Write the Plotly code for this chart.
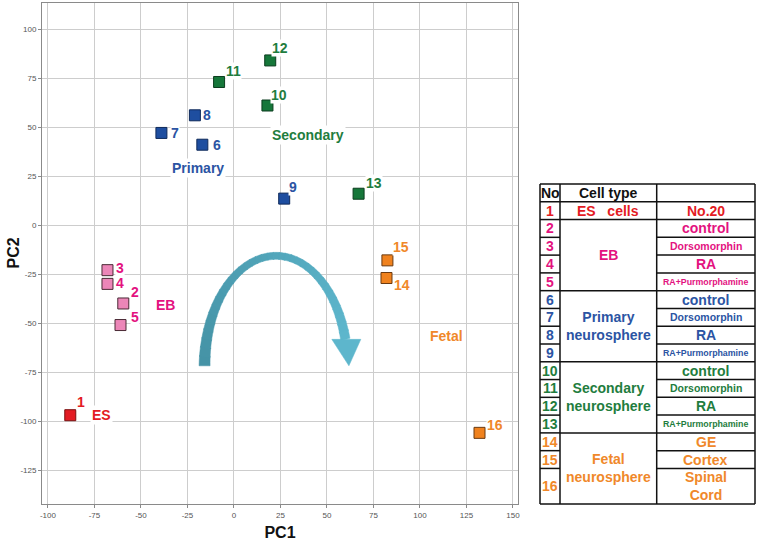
import numpy as np
import plotly.graph_objects as go

# ---------------- data ----------------
samples = [str(i) for i in range(1, 17)]
pc1 = [-88, -59.5, -68, -68, -61, -17, -39, -21, 27, 18, -8, 19.5, 67, 82, 82.5, 132]
pc2 = [-97, -40, -23, -30, -51, 41, 47, 56, 13.5, 61, 73, 84, 16, -27, -18, -106]
group = ["ES", "EB", "EB", "EB", "EB",
         "Primary", "Primary", "Primary", "Primary",
         "Secondary", "Secondary", "Secondary", "Secondary",
         "Fetal", "Fetal", "Fetal"]

group_names = ["ES", "EB", "Primary", "Secondary", "Fetal"]
group_label_x = [-71, -37, -19.6, 40, 114.4]
group_label_y = [-97, -41, 29, 46, -56.6]

x_ticks = [-100, -75, -50, -25, 0, 25, 50, 75, 100, 125, 150]
y_ticks = [-125, -100, -75, -50, -25, 0, 25, 50, 75, 100]

# table content
table_header = ["No", "Cell type", ""]
cell_types = ["ES\u00a0\u00a0 cells", "EB", "Primary<br>neurosphere",
              "Secondary<br>neurosphere", "Fetal<br>neurosphere"]
cell_type_samples = [[1], [2, 3, 4, 5], [6, 7, 8, 9], [10, 11, 12, 13], [14, 15, 16]]
conditions = ["No.20", "control", "Dorsomorphin", "RA", "RA+Purmorphamine",
              "control", "Dorsomorphin", "RA", "RA+Purmorphamine",
              "control", "Dorsomorphin", "RA", "RA+Purmorphamine",
              "GE", "Cortex", "Spinal<br>Cord"]

# ---------------- styles ----------------
fill_col = {"ES": "#E31B23", "EB": "#EC86B8", "Primary": "#1E4EA0",
            "Secondary": "#16773A", "Fetal": "#F0821E"}
edge_col = {"ES": "#7A1010", "EB": "#4A2A35", "Primary": "#0F2A5A",
            "Secondary": "#0B3D1E", "Fetal": "#6B3A10"}
text_col = {"ES": "#E31B23", "EB": "#E3127F", "Primary": "#2B54A3",
            "Secondary": "#1F7D3E", "Fetal": "#F0882A"}
# label offsets in pixels (right, down)
lab_dx = [11, 12, 13, 13, 14, 15, 14, 12, 9, 12, 14, 10, 15, 16, 14, 15]
lab_dy = [-13, -11, -2, -1, -8, 0, 0, 0, -12, -11, -11, -12, -11, 7, -13, -8]
cond_size = {"Dorsomorphin": 10.5, "RA+Purmorphamine": 8.8}

FONT = "Liberation Sans, Arial, Helvetica, sans-serif"

fig = go.Figure()

for g in group_names:
    idx = [i for i, gg in enumerate(group) if gg == g]
    fig.add_trace(go.Scatter(
        x=[pc1[i] for i in idx], y=[pc2[i] for i in idx],
        mode="markers",
        marker=dict(symbol="square", size=11, color=fill_col[g],
                    line=dict(color=edge_col[g], width=1)),
        hoverinfo="skip", showlegend=False))

annotations = []
for i, s in enumerate(samples):
    annotations.append(dict(
        x=pc1[i], y=pc2[i], xref="x", yref="y", text="<b>%s</b>" % s,
        showarrow=False, xshift=lab_dx[i], yshift=-lab_dy[i],
        font=dict(size=14, color=text_col[group[i]], family=FONT),
        bgcolor="white", borderpad=0))
for g, gx, gy in zip(group_names, group_label_x, group_label_y):
    annotations.append(dict(
        x=gx, y=gy, xref="x", yref="y", text="<b>%s</b>" % g,
        showarrow=False, font=dict(size=14, color=text_col[g], family=FONT),
        bgcolor="white", borderpad=1))

# ---------------- curved arrow (decoration) ----------------
shapes = []
SX, SY = 1.86, 1.96  # px per data unit
cx, cy, rx, ry = 22.6, -71.8, 38.4, 56.1
head_base_y, head_l, head_r, tip_x, tip_y = -58.3, 52.6, 68.2, 61.8, -71.8
t_end = np.pi - np.arcsin((head_base_y - cy) / ry)


def half_w(t):
    s = np.sin(t)
    return np.where(t < np.pi / 2, 7 + 4 * (1 - s), 7 + 3.3 * (1 - s)) / 2.0


def hexmix(c1, c2, f):
    a = [int(c1[k:k + 2], 16) for k in (1, 3, 5)]
    b = [int(c2[k:k + 2], 16) for k in (1, 3, 5)]
    return "#%02x%02x%02x" % tuple(int(round(a[k] + (b[k] - a[k]) * f)) for k in range(3))


N = 36
tb = np.linspace(0, t_end, N + 1)
for i in range(N):
    ts = np.linspace(tb[i], tb[i + 1] + (0.01 if i < N - 1 else 0), 4)
    hw = half_w(ts)
    ox = cx - (rx + hw / SX) * np.cos(ts)
    oy = cy + (ry + hw / SY) * np.sin(ts)
    ix = cx - (rx - hw / SX) * np.cos(ts)
    iy = cy + (ry - hw / SY) * np.sin(ts)
    pts = list(zip(ox, oy)) + list(zip(ix[::-1], iy[::-1]))
    path = "M " + " L ".join("%.3f,%.3f" % p for p in pts) + " Z"
    col = hexmix("#4593A6", "#5DB6CC", i / (N - 1))
    shapes.append(dict(type="path", path=path, xref="x", yref="y",
                       fillcolor=col, line=dict(color=col, width=0.5)))
shapes.append(dict(type="path", xref="x", yref="y",
                   path="M %.2f,%.2f L %.2f,%.2f L %.2f,%.2f Z" % (
                       head_l, head_base_y, head_r, head_base_y, tip_x, tip_y),
                   fillcolor="#5DB6CC", line=dict(color="#5DB6CC", width=0.5)))

# ---------------- geometry ----------------
W, H = 759, 541
ML, MR, MT, MB = 42, 2, 3, 37
PW, PH = W - ML - MR, H - MT - MB


def PX(x):       # page px -> paper
    return (x - ML) / PW


def PY(y):
    return (MT + PH - y) / PH


# ---------------- table (paper coordinates) ----------------
T_L, T_R, C1, C2 = 540, 755, 560, 656.7
T_T, T_B = 184, 504
RH = (T_B - T_T) / 18.0


def rowy(r):
    return T_T + r * RH


def sample_rows(n):
    top = n
    bot = n + 1 if n < 16 else 18
    return top, bot


def hline(x0, x1, y):
    shapes.append(dict(type="line", xref="paper", yref="paper",
                       x0=PX(x0), x1=PX(x1), y0=PY(y), y1=PY(y),
                       line=dict(color="#111111", width=1.5)))


def vline(x, y0, y1):
    shapes.append(dict(type="line", xref="paper", yref="paper",
                       x0=PX(x), x1=PX(x), y0=PY(y0), y1=PY(y1),
                       line=dict(color="#111111", width=1.5)))


hline(T_L, T_R, T_T)
hline(T_L, T_R, T_B)
vline(T_L, T_T, T_B)
vline(T_R, T_T, T_B)
vline(C1, T_T, T_B)
vline(C2, T_T, T_B)
hline(T_L, T_R, rowy(1))
for n in range(1, 16):
    _, bot = sample_rows(n)
    hline(T_L, C1, rowy(bot))
    hline(C2, T_R, rowy(bot))
for members in cell_type_samples[:-1]:
    _, bot = sample_rows(members[-1])
    hline(C1, C2, rowy(bot))


def tab_text(x, y, text, size, color):
    annotations.append(dict(x=PX(x), y=PY(y), xref="paper", yref="paper",
                            text="<b>%s</b>" % text, showarrow=False,
                            xanchor="center", yanchor="middle",
                            font=dict(size=size, color=color, family=FONT)))


tab_text((T_L + C1) / 2, rowy(0.5), table_header[0], 14, "#111111")
tab_text((C1 + C2) / 2, rowy(0.5), table_header[1], 14, "#111111")

for n in range(1, 17):
    g = group[n - 1]
    top, bot = sample_rows(n)
    yc = rowy((top + bot) / 2)
    tab_text((T_L + C1) / 2, yc, samples[n - 1], 14, text_col[g])
    cond = conditions[n - 1]
    tab_text((C2 + T_R) / 2, yc, cond, cond_size.get(cond, 14), text_col[g])

for ct, members in zip(cell_types, cell_type_samples):
    top = sample_rows(members[0])[0]
    bot = sample_rows(members[-1])[1]
    tab_text((C1 + C2) / 2, rowy((top + bot) / 2), ct, 14, text_col[group[members[0] - 1]])

# y-axis title placed as rotated text
plot_right_page = 518
plot_bottom_page = 504
annotations.append(dict(x=PX(13), y=PY((MT + plot_bottom_page) / 2), xref="paper", yref="paper",
                        text="<b>PC2</b>", showarrow=False, textangle=-90,
                        xanchor="center", yanchor="middle",
                        font=dict(size=16, color="#111111", family=FONT)))

# ---------------- layout ----------------
fig.update_layout(
    width=W, height=H,
    margin=dict(l=ML, r=MR, t=MT, b=MB, autoexpand=False),
    paper_bgcolor="white", plot_bgcolor="white",
    showlegend=False,
    font=dict(family=FONT),
    xaxis=dict(domain=[0, PX(plot_right_page)], range=[-103.2, 152.7],
               tickvals=x_ticks, ticktext=[str(v) for v in x_ticks],
               showgrid=True, gridcolor="#CDCDCD", gridwidth=1, zeroline=False,
               showline=True, linecolor="#8A8A8A", linewidth=1, mirror=True,
               ticks="outside", ticklen=3, tickcolor="#8A8A8A",
               tickfont=dict(size=8, color="#555555", family=FONT),
               title=dict(text="<b>PC1</b>", font=dict(size=16, color="#111111", family=FONT),
                          standoff=15)),
    yaxis=dict(domain=[PY(plot_bottom_page), 1], range=[-142.3, 113.3],
               tickvals=y_ticks, ticktext=[str(v) for v in y_ticks],
               showgrid=True, gridcolor="#CDCDCD", gridwidth=1, zeroline=False,
               showline=True, linecolor="#8A8A8A", linewidth=1, mirror=True,
               ticks="outside", ticklen=3, tickcolor="#8A8A8A",
               tickfont=dict(size=8, color="#555555", family=FONT)),
    shapes=shapes,
    annotations=annotations,
)

fig.write_html("out.html",
               config={"displayModeBar": False},
               post_script="document.body.style.margin='0';"
                           "document.documentElement.style.overflow='hidden';")
